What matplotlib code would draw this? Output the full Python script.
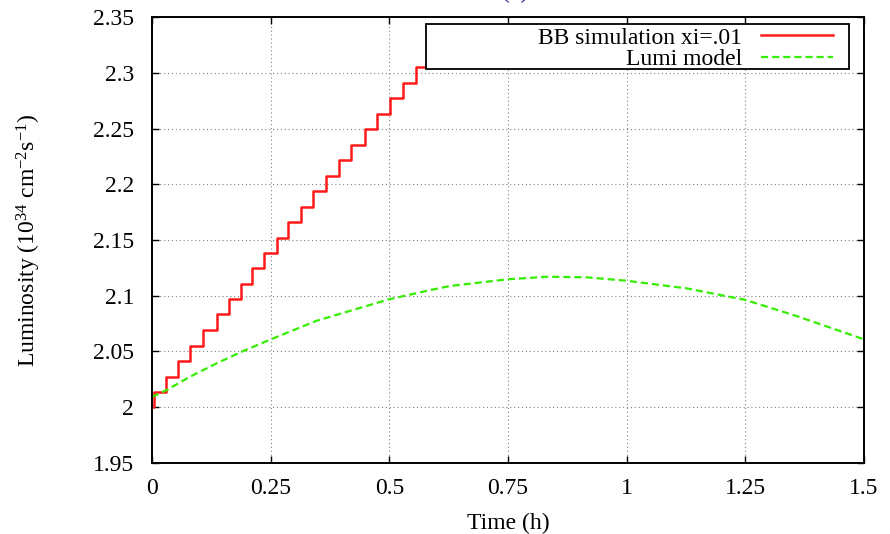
#!/usr/bin/env python3
import matplotlib
matplotlib.use("Agg")
import matplotlib.pyplot as plt
from matplotlib.patches import Rectangle

plt.rcParams['font.family'] = ['Liberation Serif', 'DejaVu Serif']
plt.rcParams['mathtext.fontset'] = 'custom'
plt.rcParams['mathtext.rm'] = 'Liberation Serif'
plt.rcParams['mathtext.it'] = 'Liberation Serif:italic'

# BB simulation (step function), time in hours
sim_time = [0.0, 0.0042, 0.0295, 0.0554, 0.0800, 0.1081, 0.1363, 0.1616, 0.1869,
            0.2113, 0.2359, 0.2627, 0.2871, 0.3133, 0.3385, 0.3666, 0.3939,
            0.4192, 0.4487, 0.4746, 0.5014, 0.5281, 0.5555, 0.573]
sim_lumi = [2.0, 2.0137, 2.0272, 2.0413, 2.0550, 2.0691, 2.0835, 2.0970, 2.1107,
            2.1248, 2.1380, 2.1520, 2.1664, 2.1798, 2.1940, 2.2077, 2.2218,
            2.2352, 2.2496, 2.2631, 2.2772, 2.2912, 2.3051, 2.3051]

# lumi model
model_time = [0.0, 0.031, 0.08, 0.136, 0.189, 0.247, 0.347, 0.499, 0.586, 0.628,
              0.749, 0.832, 0.916, 1.0, 1.126, 1.251, 1.358, 1.5]
model_lumi = [2.009, 2.0153, 2.0272, 2.0392, 2.0497, 2.0602, 2.0775, 2.0967, 2.105,
              2.1087, 2.1147, 2.117, 2.1165, 2.1134, 2.1066, 2.0961, 2.0817, 2.0608]

xticks = [0, 0.25, 0.5, 0.75, 1, 1.25, 1.5]
xlabels = ["0", "0.25", "0.5", "0.75", "1", "1.25", "1.5"]
yticks = [1.95, 2.0, 2.05, 2.1, 2.15, 2.2, 2.25, 2.3, 2.35]
ylabels = ["1.95", "2", "2.05", "2.1", "2.15", "2.2", "2.25", "2.3", "2.35"]

fig = plt.figure(figsize=(8.9, 5.34), dpi=100)
ax = fig.add_axes([152/890, 1 - 462.7/534, (864 - 152)/890, (462.7 - 17.3)/534])

ax.plot(sim_time, sim_lumi, drawstyle='steps-post', color='#ff1a1a', lw=1.8,
        label="BB simulation xi=.01")
ax.plot(model_time, model_lumi, color='#33ee00', lw=1.6, dashes=(3.2, 1.8),
        label="Lumi model")

ax.set_xlim(0, 1.5)
ax.set_ylim(1.95, 2.35)
ax.set_xticks(xticks)
ax.set_xticklabels(xlabels)
ax.set_yticks(yticks)
ax.set_yticklabels(ylabels)
ax.tick_params(direction='in', length=5, width=1, top=True, right=True,
               labelsize=17, pad=11)
ax.tick_params(axis='y', pad=13)
ax.grid(True, color='#808080', lw=0.8, linestyle=(0, (1, 2.5)))
for s in ax.spines.values():
    s.set_linewidth(1.4)

ax.set_xlabel("Time (h)", fontsize=17, labelpad=10)
ax.set_ylabel(r"Luminosity (10$^{34}$ cm$^{-2}$s$^{-1}$)", fontsize=17, labelpad=36)

# legend box like gnuplot key
x0 = (426 - 152) / 712
y0 = (462.7 - 69) / 445.4
box = Rectangle((x0, y0), (849 - 426) / 712, (69 - 24) / 445.4, transform=ax.transAxes,
                facecolor='white', edgecolor='black', lw=1.3, zorder=4)
ax.add_patch(box)
leg = ax.legend(loc='upper right', bbox_to_anchor=((833 - 152) / 712, (462.7 - 27) / 445.4),
                frameon=False, markerfirst=False, fontsize=17, labelspacing=0.0,
                handlelength=3.05, handletextpad=0.8, borderpad=0, borderaxespad=0)
leg.set_zorder(5)

fig.text(515/890, 1 - 3/534, "(a)", color='#1a1a80', fontsize=17, ha='center', va='bottom')

fig.savefig("out.png", dpi=100)
